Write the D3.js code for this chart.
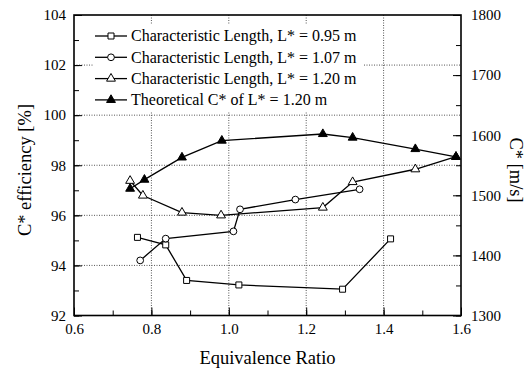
<!DOCTYPE html>
<meta charset="utf-8">
<title>C* efficiency vs equivalence ratio</title>
<style>

body {
  margin: 0;
  background: #fff;
}

text {
  font-family: "Liberation Serif", "Times New Roman", serif;
  fill: #000;
}

.axis path, .axis line {
  stroke: #000;
}

.grid line {
  stroke: #555;
  stroke-width: 1px;
  stroke-dasharray: 1,1.5;
}

</style>
<body>
<script src="https://cdn.jsdelivr.net/npm/d3@7"></script>
<script>

// equivalence ratio / C* efficiency [%]
var phi095 = [0.764, 0.837, 0.891, 1.026, 1.294, 1.418],
    eff095 = [95.12, 94.82, 93.40, 93.22, 93.05, 95.06];

var phi107 = [0.771, 0.837, 1.012, 1.029, 1.172, 1.338],
    eff107 = [94.20, 95.07, 95.36, 96.24, 96.63, 97.04];

var phi120 = [0.745, 0.778, 0.879, 0.980, 1.243, 1.320, 1.482, 1.587],
    eff120 = [97.38, 96.79, 96.11, 96.00, 96.31, 97.33, 97.84, 98.34];

// theoretical C* [m/s], right axis
var phiTh = [0.745, 0.782, 0.879, 0.982, 1.243, 1.320, 1.482, 1.587],
    cstarTh = [1511, 1526, 1563, 1591, 1602, 1596, 1577, 1564];

var legendLabels = [
  "Characteristic Length, L* = 0.95 m",
  "Characteristic Length, L* = 1.07 m",
  "Characteristic Length, L* = 1.20 m",
  "Theoretical C* of L* = 1.20 m"
];

var xTicks = [0.6, 0.8, 1.0, 1.2, 1.4, 1.6],
    yTicks = [92, 94, 96, 98, 100, 102, 104],
    y2Ticks = [1300, 1400, 1500, 1600, 1700, 1800];

var w = 531,
    h = 377,
    mLeft = 74,
    mRight = 461,
    mTop = 15,
    mBottom = 315.5;

var x = d3.scaleLinear().domain([0.6, 1.6]).range([mLeft, mRight]),
    y = d3.scaleLinear().domain([92, 104]).range([mBottom, mTop]),
    y2 = d3.scaleLinear().domain([1300, 1800]).range([mBottom, mTop]);

var svg = d3.select("body").append("svg")
    .attr("width", w)
    .attr("height", h);

// grid
var grid = svg.append("g").attr("class", "grid");

grid.selectAll(".gx")
    .data(xTicks.slice(1, -1))
  .enter().append("line")
    .attr("x1", function(d) { return x(d); })
    .attr("x2", function(d) { return x(d); })
    .attr("y1", mTop)
    .attr("y2", mBottom);

grid.selectAll(".gy")
    .data(yTicks.slice(1, -1))
  .enter().append("line")
    .attr("x1", mLeft)
    .attr("x2", mRight)
    .attr("y1", function(d) { return y(d); })
    .attr("y2", function(d) { return y(d); });

// legend background hides the grid behind it
svg.append("rect")
    .attr("x", 93)
    .attr("y", 24)
    .attr("width", 270)
    .attr("height", 88)
    .attr("fill", "#fff");

// axes
function axis(g, gen) {
  g.attr("class", "axis").call(gen)
      .attr("font-family", "Liberation Serif, serif")
      .attr("font-size", 15);
  g.select(".domain").remove();
}

var xMinor = d3.range(0.6, 1.65, 0.1),
    yMinor = d3.range(92, 104.5, 1),
    y2Minor = d3.range(1300, 1825, 50);

svg.append("g")
    .attr("transform", "translate(0," + mBottom + ")")
    .call(axis, d3.axisBottom(x).tickValues(xMinor).tickSize(-5).tickFormat(""));
svg.append("g")
    .attr("transform", "translate(0," + mBottom + ")")
    .call(axis, d3.axisBottom(x).tickValues(xTicks).tickSize(-8).tickPadding(8).tickFormat(d3.format(".1f")));

svg.append("g")
    .attr("transform", "translate(" + mLeft + ",0)")
    .call(axis, d3.axisLeft(y).tickValues(yMinor).tickSize(-5).tickFormat(""));
svg.append("g")
    .attr("transform", "translate(" + mLeft + ",0)")
    .call(axis, d3.axisLeft(y).tickValues(yTicks).tickSize(-8).tickPadding(8));

svg.append("g")
    .attr("transform", "translate(" + mRight + ",0)")
    .call(axis, d3.axisRight(y2).tickValues(y2Minor).tickSize(-5).tickFormat(""));
svg.append("g")
    .attr("transform", "translate(" + mRight + ",0)")
    .call(axis, d3.axisRight(y2).tickValues(y2Ticks).tickSize(-8).tickPadding(10).tickFormat(d3.format("d")));

svg.append("rect")
    .attr("x", mLeft)
    .attr("y", mTop)
    .attr("width", mRight - mLeft)
    .attr("height", mBottom - mTop)
    .attr("fill", "none")
    .attr("stroke", "#000")
    .attr("stroke-width", 1.6);

// titles
svg.append("text")
    .attr("x", (mLeft + mRight) / 2)
    .attr("y", 364)
    .attr("text-anchor", "middle")
    .style("font-size", "18.5px")
    .text("Equivalence Ratio");

svg.append("text")
    .attr("transform", "translate(31,170)rotate(-90)")
    .attr("text-anchor", "middle")
    .style("font-size", "18.5px")
    .text("C* efficiency [%]");

svg.append("text")
    .attr("transform", "translate(510,170)rotate(90)")
    .attr("text-anchor", "middle")
    .style("font-size", "18.5px")
    .text("C* [m/s]");

// series
var series = [
  {xs: phi095, ys: eff095, sc: y, sym: d3.symbolSquare, size: 36, fill: "#fff"},
  {xs: phi107, ys: eff107, sc: y, sym: d3.symbolCircle, size: 36, fill: "#fff"},
  {xs: phi120, ys: eff120, sc: y, sym: d3.symbolTriangle, size: 34, fill: "#fff"},
  {xs: phiTh, ys: cstarTh, sc: y2, sym: d3.symbolTriangle, size: 34, fill: "#000"}
];

series.forEach(function(s) {
  var pts = s.xs.map(function(v, i) { return [x(v), s.sc(s.ys[i])]; });

  svg.append("path")
      .attr("d", d3.line()(pts))
      .attr("fill", "none")
      .attr("stroke", "#000")
      .attr("stroke-width", 1.3);

  svg.selectAll(null)
      .data(pts)
    .enter().append("path")
      .attr("transform", function(d) { return "translate(" + d[0] + "," + d[1] + ")"; })
      .attr("d", d3.symbol().type(s.sym).size(s.size))
      .attr("fill", s.fill)
      .attr("stroke", "#000")
      .attr("stroke-width", 1);
});

// legend
var lg = svg.selectAll(".legend")
    .data(series)
  .enter().append("g")
    .attr("transform", function(d, i) { return "translate(0," + (36 + i * 21.3) + ")"; });

lg.append("line")
    .attr("x1", 95)
    .attr("x2", 127)
    .attr("stroke", "#000")
    .attr("stroke-width", 1.3);

lg.append("path")
    .attr("transform", "translate(111,0)")
    .attr("d", function(d) { return d3.symbol().type(d.sym).size(d.size)(); })
    .attr("fill", function(d) { return d.fill; })
    .attr("stroke", "#000")
    .attr("stroke-width", 1);

lg.append("text")
    .attr("x", 131)
    .attr("dy", "0.33em")
    .style("font-size", "16px")
    .text(function(d, i) { return legendLabels[i]; });

</script>
